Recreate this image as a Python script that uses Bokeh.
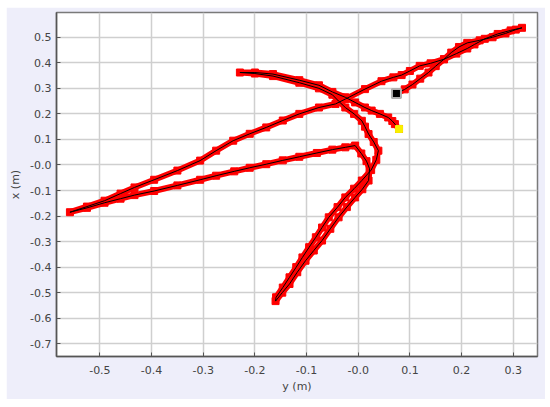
from bokeh.plotting import figure
from bokeh.models import Range1d, FixedTicker, CustomJSTickFormatter
from bokeh.embed import file_html
from bokeh.resources import INLINE

# tick values and labels
XTICKS = [-0.5, -0.4, -0.3, -0.2, -0.1, 0.0, 0.1, 0.2, 0.3]
XLABELS = ["-0.5", "-0.4", "-0.3", "-0.2", "-0.1", "-0.0", "0.1", "0.2", "0.3"]
YTICKS = [-0.7, -0.6, -0.5, -0.4, -0.3, -0.2, -0.1, 0.0, 0.1, 0.2, 0.3, 0.4, 0.5]
YLABELS = ["-0.7", "-0.6", "-0.5", "-0.4", "-0.3", "-0.2", "-0.1", "-0.0",
           "0.1", "0.2", "0.3", "0.4", "0.5"]

# trajectory: (y, x) in metres, in travel order
seg_a_y = [0.074, 0.090, 0.105, 0.120, 0.136, 0.150, 0.166, 0.180, 0.195, 0.211,
           0.235, 0.260, 0.285, 0.305, 0.317]
seg_a_x = [0.280, 0.296, 0.315, 0.338, 0.362, 0.387, 0.414, 0.440, 0.462, 0.478,
           0.488, 0.500, 0.515, 0.530, 0.537]

seg_b_y = [0.295, 0.270, 0.245, 0.225, 0.211, 0.190, 0.166, 0.140, 0.119, 0.100,
           0.084, 0.068, 0.045, 0.013, -0.025, -0.044, -0.076, -0.114, -0.146,
           -0.178, -0.210, -0.242, -0.275, -0.306, -0.350, -0.395, -0.433,
           -0.460, -0.491, -0.525, -0.558]
seg_b_x = [0.527, 0.513, 0.494, 0.472, 0.456, 0.436, 0.414, 0.398, 0.388, 0.368,
           0.352, 0.343, 0.328, 0.297, 0.258, 0.239, 0.225, 0.200, 0.174,
           0.147, 0.122, 0.095, 0.056, 0.017, -0.022, -0.058, -0.088,
           -0.112, -0.140, -0.163, -0.185]

seg_c_y = [-0.525, -0.491, -0.460, -0.433, -0.395, -0.350, -0.306, -0.275, -0.240,
           -0.210, -0.178, -0.146, -0.114, -0.080, -0.050, -0.025, -0.006]
seg_c_x = [-0.168, -0.148, -0.132, -0.118, -0.102, -0.080, -0.058, -0.042, -0.025,
           -0.011, 0.003, 0.018, 0.032, 0.047, 0.060, 0.069, 0.076]

seg_d_y = [0.006, 0.016, 0.022, 0.020, 0.008, -0.006, -0.022, -0.038, -0.054,
           -0.070, -0.086, -0.102, -0.118, -0.133, -0.147, -0.160]
seg_d_x = [0.045, 0.015, -0.015, -0.061, -0.095, -0.127, -0.165, -0.205, -0.250,
           -0.296, -0.335, -0.375, -0.420, -0.466, -0.500, -0.533]

seg_e_y = [-0.159, -0.146, -0.133, -0.120, -0.108, -0.095, -0.082, -0.070, -0.057,
           -0.040, -0.025, -0.008, 0.007, 0.025, 0.035, 0.039, 0.030, 0.020,
           0.013, 0.007, -0.008, -0.025, -0.038, -0.050, -0.076, -0.114,
           -0.165, -0.200, -0.229]
seg_e_x = [-0.518, -0.480, -0.440, -0.400, -0.362, -0.322, -0.283, -0.245, -0.205,
           -0.165, -0.127, -0.093, -0.061, -0.020, 0.020, 0.056, 0.090, 0.121,
           0.150, 0.173, 0.200, 0.225, 0.250, 0.275, 0.300, 0.322,
           0.348, 0.358, 0.362]

seg_f_y = [-0.200, -0.165, -0.114, -0.076, -0.050, -0.025, -0.006, 0.013,
           0.026, 0.042, 0.058, 0.066, 0.071, 0.079]
seg_f_x = [0.362, 0.356, 0.332, 0.312, 0.286, 0.265, 0.245, 0.225,
           0.213, 0.200, 0.186, 0.172, 0.160, 0.141]

start_y, start_x = [0.074], [0.280]
end_y, end_x = [0.079], [0.141]

path_y = seg_a_y + seg_b_y + seg_c_y + seg_d_y + seg_e_y + seg_f_y
path_x = seg_a_x + seg_b_x + seg_c_x + seg_d_x + seg_e_x + seg_f_x

p = figure(width=539, height=392, output_backend="svg", toolbar_location=None,
           x_range=Range1d(-0.584, 0.347), y_range=Range1d(-0.750, 0.597),
           min_border_left=45, min_border_right=8, min_border_top=5, min_border_bottom=43)
p.margin = (7, 5, 8, 6)
p.border_fill_color = "#eeeefa"
p.background_fill_color = "white"
p.outline_line_color = "#7a7a7a"
p.outline_line_width = 1.5

font = "DejaVu Sans"
code = """
let b = 0, d = 1e9;
for (let i = 0; i < vals.length; i++) { const e = Math.abs(vals[i] - tick); if (e < d) { d = e; b = i; } }
return labs[b];"""
fmt_x = CustomJSTickFormatter(args=dict(vals=XTICKS, labs=XLABELS), code=code)
fmt_y = CustomJSTickFormatter(args=dict(vals=YTICKS, labs=YLABELS), code=code)

for ax, ticks, fmt, lab in ((p.xaxis[0], XTICKS, fmt_x, "y (m)"), (p.yaxis[0], YTICKS, fmt_y, "x (m)")):
    ax.ticker = FixedTicker(ticks=ticks)
    ax.formatter = fmt
    ax.minor_tick_line_color = None
    ax.major_tick_in = 4
    ax.major_tick_out = 0
    ax.major_tick_line_color = "#555555"
    ax.axis_line_color = "#555555"
    ax.axis_line_width = 1.5
    ax.major_label_text_font = font
    ax.major_label_text_font_size = "11px"
    ax.major_label_text_color = "#444444"
    ax.axis_label = lab
    ax.axis_label_text_font = font
    ax.axis_label_text_font_size = "11px"
    ax.axis_label_text_font_style = "normal"
    ax.axis_label_text_color = "#444444"
p.xaxis[0].major_label_standoff = 9
p.xaxis[0].axis_label_standoff = 3
p.yaxis[0].major_label_standoff = 5
p.yaxis[0].axis_label_standoff = 5

p.xgrid.ticker = FixedTicker(ticks=XTICKS)
p.ygrid.ticker = FixedTicker(ticks=YTICKS)
p.grid.grid_line_color = "#cfcfcf"
p.grid.grid_line_width = 1.5

p.line(path_y, path_x, line_color="#ff0000", line_width=6)
p.scatter(path_y, path_x, marker="square", size=7, fill_color="#ff0000", line_color="#ff0000")
p.line(path_y, path_x, line_color="black", line_width=1)
p.scatter(start_y, start_x, marker="square", size=9, fill_color="black",
          line_color="#b0b0b0", line_width=2)
p.scatter(end_y, end_x, marker="square", size=7, fill_color="#f8f000", line_color="#f8f000")

open("out.html", "w").write(file_html(p, INLINE))
